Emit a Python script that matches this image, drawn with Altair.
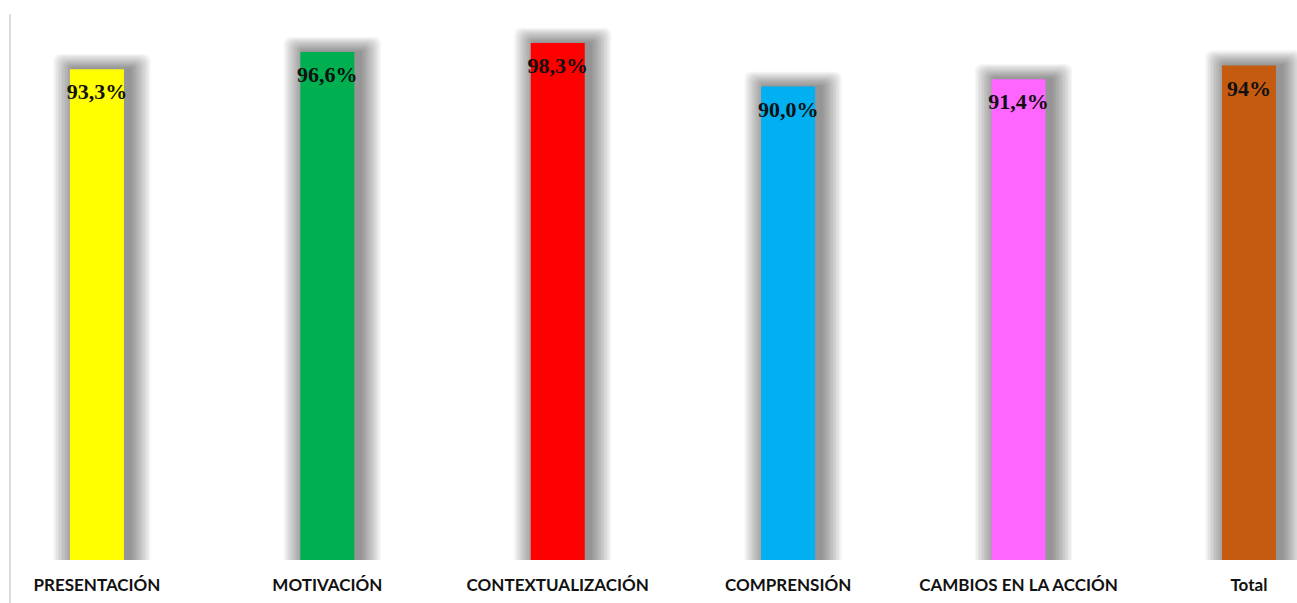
import altair as alt
import pandas as pd

categories = ["PRESENTACIÓN", "MOTIVACIÓN", "CONTEXTUALIZACIÓN", "COMPRENSIÓN", "CAMBIOS EN LA ACCIÓN", "Total"]
values = [93.3, 96.6, 98.3, 90.0, 91.4, 94.0]
labels = ["93,3%", "96,6%", "98,3%", "90,0%", "91,4%", "94%"]
colors = ["#FFFF00", "#00B050", "#FF0000", "#00B0F0", "#FF66FF", "#C55A11"]

df = pd.DataFrame({"cat": categories, "val": values, "lab": labels})

W, H = 1287, 526

xscale = alt.Scale(domain=categories, paddingInner=0.7656, paddingOuter=0.1758, align=0.74)
yscale = alt.Scale(domain=[0, 100], nice=False)

xenc = alt.X("cat:N", scale=xscale, sort=categories,
             axis=alt.Axis(title=None, labelAngle=0, domain=False, ticks=False,
                           labelFont="Lato", labelFontWeight="bold", labelFontSize=17,
                           labelColor="#111111", labelPadding=17, labelLimit=0))
yenc = alt.Y("val:Q", scale=yscale, axis=None)

base = alt.Chart(df)

layers = []
for k in range(14, 0, -1):
    layers.append(
        base.transform_calculate(sh=f"datum.val + {k * 0.21:.3f}")
        .mark_bar(color="#000000", opacity=0.036, size=56 + 3 * k, xOffset=5,
                  cornerRadiusTopLeft=min(k, 8), cornerRadiusTopRight=min(k, 8))
        .encode(x=xenc, y=alt.Y("sh:Q", scale=yscale, axis=None))
    )

bars = base.mark_bar(size=54).encode(
    x=xenc, y=yenc,
    color=alt.Color("cat:N", scale=alt.Scale(domain=categories, range=colors), legend=None),
)

text = base.mark_text(font="Liberation Serif", fontWeight="bold", fontSize=22,
                      color="#111111", baseline="middle", dy=23).encode(
    x=xenc, y=yenc, text="lab:N"
)

vline = alt.Chart(pd.DataFrame({"d": [0]})).mark_rule(color="#dcdcdc", strokeWidth=2).encode(
    x=alt.value(0), y=alt.value(-20), y2=alt.value(H + 50)
)

chart = alt.layer(*layers, bars, text, vline).properties(
    width=W, height=H,
    autosize=alt.AutoSizeParams(type="none"),
    padding={"left": 10, "top": 34, "right": 0, "bottom": 43},
    background="#ffffff",
).configure_view(stroke="transparent", strokeWidth=0)

chart.save("out.html", embed_options={"renderer": "svg", "actions": False})
